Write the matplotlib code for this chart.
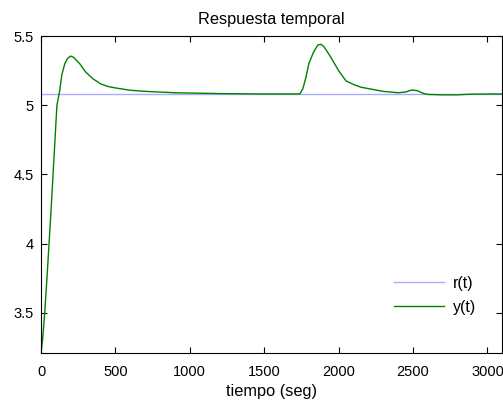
import matplotlib
matplotlib.use("Agg")
import matplotlib.pyplot as plt

t_ref = [0, 3100]
r_ref = [5.082, 5.082]

t_y = [0, 10, 25, 40, 54, 68, 81, 94, 107, 125, 140, 160, 180, 200, 220, 260, 300,
       350, 400, 450, 500, 600, 700, 800, 900, 1000, 1100, 1200, 1300, 1400, 1500,
       1600, 1700, 1740, 1760, 1780, 1800, 1830, 1860, 1880, 1900, 1940, 2000, 2050,
       2100, 2150, 2200, 2250, 2300, 2350, 2400, 2450, 2490, 2530, 2570, 2600, 2700,
       2800, 2850, 2900, 3000, 3100]
y_val = [3.21, 3.30, 3.50, 3.75, 4.00, 4.25, 4.50, 4.75, 5.00, 5.10, 5.22, 5.30, 5.34,
         5.355, 5.345, 5.30, 5.24, 5.19, 5.155, 5.135, 5.125, 5.108, 5.10, 5.095, 5.09,
         5.088, 5.086, 5.084, 5.083, 5.082, 5.081, 5.081, 5.081, 5.082, 5.12, 5.20,
         5.30, 5.38, 5.435, 5.44, 5.425, 5.36, 5.25, 5.175, 5.15, 5.13, 5.12, 5.11,
         5.10, 5.095, 5.09, 5.095, 5.11, 5.105, 5.085, 5.078, 5.075, 5.075, 5.078,
         5.08, 5.081, 5.081]

xticks = [0, 500, 1000, 1500, 2000, 2500, 3000]
yticks = [3.5, 4, 4.5, 5, 5.5]
ytick_labels = ["3.5", "4", "4.5", "5", "5.5"]

plt.rcParams['font.family'] = ['Liberation Sans', 'DejaVu Sans']
fig = plt.figure(figsize=(5.03, 4.00), dpi=100)
ax = fig.add_axes([41/503, 47/400, 461/503, 317/400])
ax.plot(t_ref, r_ref, color='#aaaaff', lw=1.0, label='r(t)')
ax.plot(t_y, y_val, color='#008000', lw=1.0, label='y(t)')
ax.set_xlim(0, 3098)
ax.set_ylim(3.21, 5.5)
ax.set_xticks(xticks)
ax.set_xticklabels([str(v) for v in xticks])
ax.set_yticks(yticks)
ax.set_yticklabels(ytick_labels)
ax.tick_params(direction='in', top=True, right=True, labelsize=10.5, length=4, width=0.8)
ax.tick_params(axis='x', pad=9)
ax.tick_params(axis='y', pad=5)
for s in ax.spines.values():
    s.set_linewidth(0.8)
ax.set_title('Respuesta temporal', fontsize=11.8, pad=9)
ax.set_xlabel('tiempo (seg)', fontsize=11.8, labelpad=3)
leg = ax.legend(loc='lower right', bbox_to_anchor=(0.975, 0.075), frameon=False,
                fontsize=11.5, handlelength=3.15, labelspacing=0.55, handletextpad=0.55)
fig.savefig('out.png', dpi=100)
